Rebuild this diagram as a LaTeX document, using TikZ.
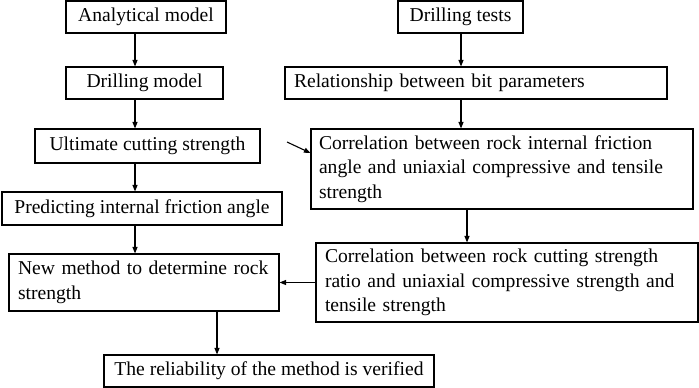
\documentclass[tikz,border=0pt]{standalone}
\usepackage{fontspec}
\setmainfont{Liberation Serif}
\usetikzlibrary{arrows.meta}
\tikzset{
  box/.style={draw=black, line width=1.1pt, inner ysep=0pt, inner xsep=9pt,
    font=\fontsize{19.6}{24.5}\selectfont, anchor=center},
  lbox/.style={box, align=left},
  arr/.style={draw=black, line width=1.1pt, -{Triangle[length=6.5pt,width=5pt]}}
}
\begin{document}
\begin{tikzpicture}[x=1pt,y=-1pt]
\useasboundingbox (0,0) rectangle (699,388);
% left column
\node[box, minimum width=160, minimum height=32] (A) at (146,17) {Analytical model};
\node[box, minimum width=157, minimum height=32] (C) at (144.5,83) {Drilling model};
\node[box, minimum width=225, minimum height=34] (D) at (147.5,146) {Ultimate cutting strength};
\node[box, minimum width=280, minimum height=33] (E) at (142,208.5) {Predicting internal friction angle};
\node[lbox, text width=252, minimum height=57] (F) at (144,282.5) {New method to determine rock\\strength};
\node[box, minimum width=330, minimum height=32] (G) at (269,371) {The reliability of the method is verified};
% right column
\node[box, minimum width=125, minimum height=32] (B) at (460.5,17) {Drilling tests};
\node[lbox, text width=364, minimum height=32] (H) at (476,83) {Relationship between bit parameters};
\node[lbox, text width=366, inner xsep=8pt, minimum height=80] (I) at (502,169) {Correlation between rock internal friction\\angle and uniaxial compressive and tensile\\strength};
\node[lbox, text width=364, minimum height=79] (J) at (507,282.5) {Correlation between rock cutting strength\\ratio and uniaxial compressive strength and\\tensile strength};
% connector guides
\coordinate (lx) at (135,0);
\coordinate (rx) at (461,0);
\coordinate (cx) at (467,0);
\coordinate (gx) at (217,0);
\coordinate (dstart) at (287,142);
\coordinate (iy) at (0,153);
% connectors
\draw[arr] (A.south -| lx) -- (C.north -| lx);
\draw[arr] (C.south -| lx) -- (D.north -| lx);
\draw[arr] (D.south -| lx) -- (E.north -| lx);
\draw[arr] (E.south -| lx) -- (F.north -| lx);
\draw[arr] (B.south -| rx) -- (H.north -| rx);
\draw[arr] (H.south -| rx) -- (I.north -| rx);
\draw[arr] (I.south -| cx) -- (J.north -| cx);
\draw[arr] (F.south -| gx) -- (G.north -| gx);
\draw[arr] (J.west) -- (F.east |- J.west);
\draw[arr] (dstart) -- (I.west |- iy);
\end{tikzpicture}
\end{document}
